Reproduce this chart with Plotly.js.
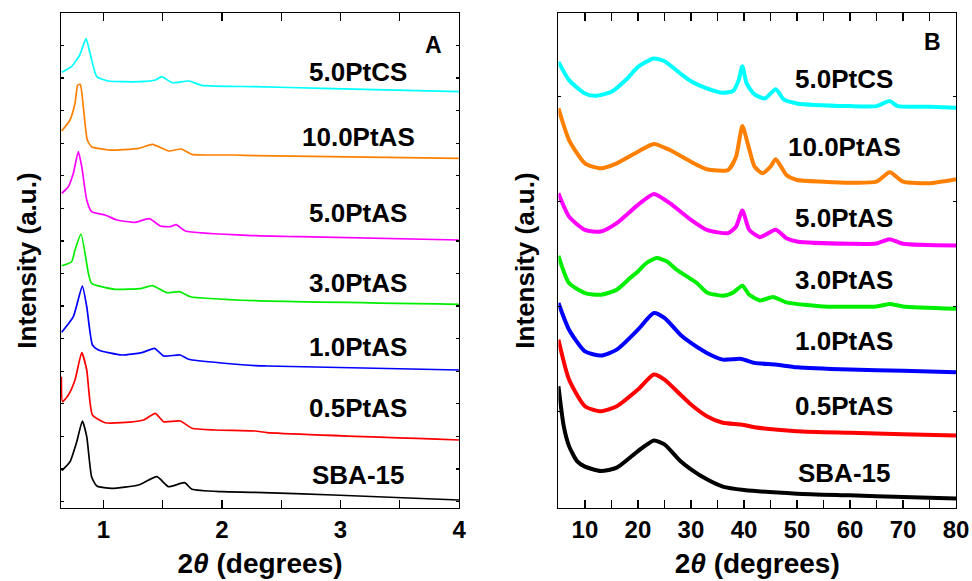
<!DOCTYPE html>
<html>
<head>
<meta charset="utf-8">
<script src="https://cdn.plot.ly/plotly-3.0.1.min.js"></script>
<style>html,body{margin:0;padding:0;background:#fff;}#chart{width:972px;height:581px;}</style>
</head>
<body>
<div id="chart"></div>
<script>
// ---------- DATA (intensity in arbitrary units) ----------
const sampleNames = ["SBA-15", "0.5PtAS", "1.0PtAS", "3.0PtAS", "5.0PtAS", "10.0PtAS", "5.0PtCS"];
const sampleColors = ["#000000", "#FF0000", "#0000FF", "#00EE00", "#FF00FF", "#FF8000", "#00FFFF"];

// Panel A : low-angle XRD, 2theta (degrees)
const lowX_SBA15 = [0.648,0.718,0.775,0.822,0.859,0.90,0.944,1.07,1.295,1.451,1.549,1.684,1.747,2.0,2.28,2.94,4.0];
const lowY_SBA15 = [37.3,46.3,66.3,87,71.3,31.3,22,19.7,23,31.3,21.3,25.3,18.7,16.3,15.7,13,8];
const lowX_05 = [0.645,0.655,0.704,0.76,0.817,0.859,0.907,1.014,1.155,1.338,1.437,1.507,1.648,1.747,1.944,2.28,2.38,4.0];
const lowY_05 = [131.3,106.3,113,128,155.3,138,93,85.3,85.3,88,94.7,86.3,87,79.7,78,77,75.3,68];
const lowX_10 = [0.648,0.746,0.822,0.859,0.907,0.957,1.155,1.324,1.431,1.507,1.648,1.718,2.28,2.38,4.0];
const lowY_10 = [175.7,191.3,222,201.3,163,158,153,155.3,159.7,152,153,148.7,142.3,142,138];
const lowX_30 = [0.648,0.732,0.76,0.811,0.873,0.90,1.098,1.324,1.414,1.535,1.642,1.733,2.28,4.0];
const lowY_30 = [242.3,246.3,258,274,234.7,224.7,218.7,219.7,222.3,215.3,216.3,211.3,207.3,203.7];
const lowX_50 = [0.648,0.704,0.746,0.788,0.817,0.859,0.90,1.014,1.113,1.267,1.388,1.479,1.563,1.614,1.69,2.28,2.66,4.0];
const lowY_50 = [314.7,321.3,334.7,356.3,341.3,308,296.3,293,288,285.7,289.3,282,281.3,283.3,277,272.3,271.3,268];
const lowX_100 = [0.648,0.718,0.76,0.783,0.805,0.83,0.864,0.90,1.04,1.3,1.414,1.549,1.656,1.747,2.1,2.28,4.0];
const lowY_100 = [377,388,404.7,423,423.5,401.3,368,361.3,358,359.7,363.7,357,359,353.7,353,352.3,349.7];
const lowX_CS = [0.648,0.73,0.80,0.853,0.887,0.944,1.04,1.3,1.44,1.49,1.58,1.72,1.83,2.28,2.85,4.0];
const lowY_CS = [435.7,441.3,453,469.3,454.7,431.3,427,426.3,428,431.3,425.3,427,422.7,421.3,419.7,416.3];

// Panel B : wide-angle XRD, 2theta (degrees)
const wideX_SBA15 = [5,6,7,8.5,10,13,16,20,23,25,28,30,33,36,40,50,60,70,80];
const wideY_SBA15 = [122,82,62,47,41.4,37,40.4,57,67.7,63.7,47,38.7,28.7,21.4,18,14.4,12.7,11,9.4];
const wideX_05 = [5,7,10,13,16,20,23,25,28,30,33,36,39.5,42,50,60,70,80];
const wideY_05 = [168.7,128.7,102,97,102,118.7,133.7,128.7,113.7,103.7,92,85.4,83.7,81,77,75.4,74,72.7];
const wideX_10 = [5,7,10,13,16,20,23,25,28,30,33,36,39.5,42,46,50,60,70,80];
const wideY_10 = [205.4,178.7,157,152.7,158.7,178.7,195.4,190.4,173.7,165.4,155.4,148.7,149.4,145.4,143.7,141,138.7,137.5,136];
const wideX_30 = [5,7,10,13,16,18.5,20,21.5,23.5,25.5,27.3,31.1,33,36,38,39.7,41,43,45.5,48,55,65,67.5,70,80];
const wideY_30 = [252.7,225.4,215.4,213.7,218.7,230.4,237,245,250.4,247,238.7,225.4,216,212.7,216,222.7,213.7,208,211.4,206,202,202,204.4,202,199.7];
const wideX_50 = [5,7,10,13,16,20,23,26,30,33,37,38.5,39.7,41,43,46,48,50,60,65,67.5,70,80];
const wideY_50 = [315.4,292,278.7,277,285.4,303.7,314.7,305.4,288.7,278.7,275.4,282,298,278.7,271.4,278.7,270.4,267,264.7,265,269.4,264.7,263];
const wideX_100 = [5,7,10,13,16,20,23,26,30,33,37,38.5,39.7,40.7,42,43.5,45,46,48,50,55,60,65,67.5,70,75,80];
const wideY_100 = [400.4,368.7,345.4,340.4,345.4,357,364.7,358.7,347,339.4,338.7,352,382.7,365.4,342,335.4,342,349.4,333.7,328.7,327,326,327,336.4,327,325.4,329.4];
const wideX_CS = [5,7,10,12,15,18,20,23,25,28,30,33,36,38,39,39.7,40.5,42,44,46,47.5,50,60,65,67.5,69,75,80];
const wideY_CS = [447,428.7,415.4,413,417,430.4,442,450.4,447.7,435.4,427.7,420.4,416,418,428.7,442.7,425.4,414.4,410.4,419.7,409.4,405.4,402.7,402.7,407.7,402.7,402,401];

const lowTicks = [1, 2, 3, 4];
const wideTicks = [10, 20, 30, 40, 50, 60, 70, 80];

// ---------- BUILD ----------
const lowSeries = [[lowX_SBA15,lowY_SBA15],[lowX_05,lowY_05],[lowX_10,lowY_10],[lowX_30,lowY_30],[lowX_50,lowY_50],[lowX_100,lowY_100],[lowX_CS,lowY_CS]];
const wideSeries = [[wideX_SBA15,wideY_SBA15],[wideX_05,wideY_05],[wideX_10,wideY_10],[wideX_30,wideY_30],[wideX_50,wideY_50],[wideX_100,wideY_100],[wideX_CS,wideY_CS]];

const traces = [];
lowSeries.forEach((s, i) => traces.push({
  x: s[0], y: s[1], type: 'scatter', mode: 'lines', name: sampleNames[i],
  xaxis: 'x', yaxis: 'y', showlegend: false,
  line: {color: sampleColors[i], width: 1.7, shape: 'spline', smoothing: 0.5}
}));
wideSeries.forEach((s, i) => traces.push({
  x: s[0], y: s[1], type: 'scatter', mode: 'lines', name: sampleNames[i],
  xaxis: 'x2', yaxis: 'y2', showlegend: false,
  line: {color: sampleColors[i], width: 4, shape: 'spline', smoothing: 0.6}
}));

const FONT = '"Liberation Sans", Arial, sans-serif';
const labelFont = {family: FONT, size: 26, color: '#000', weight: 'bold'};

// label placement (layout only)
const lowLabelX = 3.15, wideLabelX = 58.9;
const lowLabelY = [33, 99.7, 161.3, 224.7, 294.7, 371.3, 436.3];
const wideLabelY = [35.4, 102.7, 167, 228.7, 290.4, 361.4, 429.7];

const annotations = [];
sampleNames.forEach((n, i) => {
  annotations.push({xref: 'x', yref: 'y', x: lowLabelX, y: lowLabelY[i], text: n, showarrow: false, font: labelFont, xanchor: 'center', yanchor: 'middle'});
  annotations.push({xref: 'x2', yref: 'y2', x: wideLabelX, y: wideLabelY[i], text: n, showarrow: false, font: labelFont, xanchor: 'center', yanchor: 'middle'});
});
annotations.push({xref: 'x', yref: 'y', x: 3.78, y: 463, text: 'A', showarrow: false, font: {family: FONT, size: 23, color: '#000', weight: 'bold'}});
annotations.push({xref: 'x2', yref: 'y2', x: 75.6, y: 467, text: 'B', showarrow: false, font: {family: FONT, size: 23, color: '#000', weight: 'bold'}});

const xCommon = {
  showline: true, linecolor: '#000', linewidth: 1.3, mirror: 'ticks',
  ticks: 'inside', ticklen: 8, tickwidth: 1.3, tickcolor: '#000',
  showgrid: false, zeroline: false,
  tickfont: {family: FONT, size: 24, color: '#000', weight: 'bold'},
  ticklabelstandoff: 0,
  minor: {ticks: 'inside', ticklen: 8, tickwidth: 1.3, tickcolor: '#000', showgrid: false},
  title: {text: '2<i>θ</i> (degrees)', font: {family: FONT, size: 28, color: '#000', weight: 'bold'}, standoff: 11}
};
const yCommon = {
  showline: true, linecolor: '#000', linewidth: 1.3, mirror: 'ticks',
  ticks: 'inside', ticklen: 3, tickwidth: 1.3, tickcolor: '#000',
  showgrid: false, zeroline: false, showticklabels: false,
  title: {text: 'Intensity (a.u.)', font: {family: FONT, size: 26, color: '#000', weight: 'bold'}, standoff: 15}
};

const layout = {
  width: 972, height: 581,
  margin: {l: 61, r: 16, t: 13, b: 73},
  paper_bgcolor: '#fff', plot_bgcolor: '#fff',
  showlegend: false,
  xaxis: Object.assign({}, xCommon, {domain: [0, 0.4448], range: [0.642, 4.0], tickvals: lowTicks, ticktext: lowTicks.map(String),
    minor: Object.assign({}, xCommon.minor, {tickvals: [1.5, 2.5, 3.5]}), anchor: 'y'}),
  yaxis: Object.assign({}, yCommon, {domain: [0, 1], range: [0, 495], tick0: 6.5, dtick: 32.57, anchor: 'x'}),
  xaxis2: Object.assign({}, xCommon, {domain: [0.5558, 1], range: [5, 80], tickvals: wideTicks, ticktext: wideTicks.map(String),
    minor: Object.assign({}, xCommon.minor, {tickvals: [15, 25, 35, 45, 55, 65, 75]}), anchor: 'y2'}),
  yaxis2: Object.assign({}, yCommon, {domain: [0, 1], range: [0, 496], tick0: 97, dtick: 105, anchor: 'x2'}),
  annotations: annotations
};

Plotly.newPlot('chart', traces, layout, {displayModeBar: false, staticPlot: true});
</script>
</body>
</html>
